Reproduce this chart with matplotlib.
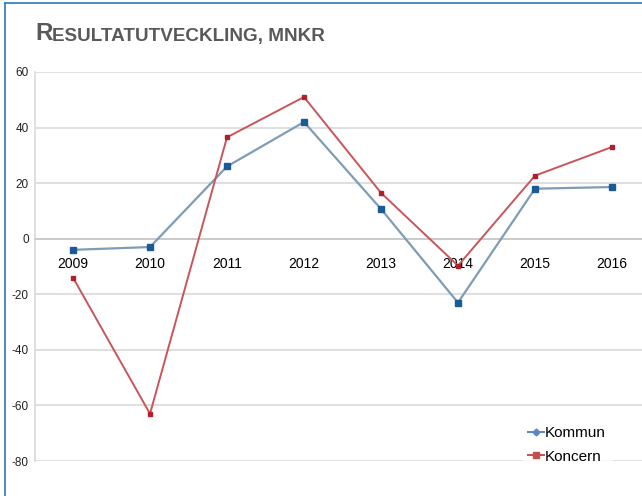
import matplotlib.pyplot as plt
from matplotlib.lines import Line2D

plt.rcParams['font.family'] = ['Liberation Sans', 'DejaVu Sans']

# data
years = ["2009", "2010", "2011", "2012", "2013", "2014", "2015", "2016"]
kommun = [-4, -3, 26, 42, 10.7, -23, 18, 18.6]
koncern = [-14, -63, 36.5, 51, 16.5, -9.7, 22.7, 33]
yticks = [-80, -60, -40, -20, 0, 20, 40, 60]

fig = plt.figure(figsize=(6.42, 4.96), dpi=100)
ax = fig.add_axes([34.5 / 642, 35 / 496, 616 / 642, 389 / 496])

x = list(range(len(years)))

# linjer
ax.plot(x, kommun, color="#7f9cb6", lw=1.6, marker="s", ms=4,
        mfc="#1a5b96", mec="#1a5b96", zorder=3)
ax.plot(x, koncern, color="#c9555a", lw=1.4, marker="s", ms=3.2,
        mfc="#b0202a", mec="#b0202a", zorder=3)

ax.set_xlim(-0.5, 7.5)
ax.set_ylim(-80, 60)
ax.set_yticks(yticks)
ax.set_yticklabels([str(v) for v in yticks], fontsize=8.5, color="#222222")
ax.set_xticks(x)
ax.set_xticklabels(years, fontsize=8.5, color="#222222")
ax.tick_params(axis="both", length=0)
ax.tick_params(axis="y", pad=4)
ax.tick_params(axis="x", pad=13)

ax.grid(axis="y", color="#d9d9d9", lw=1.2)
ax.set_axisbelow(True)

for s in ["top", "right"]:
    ax.spines[s].set_visible(False)
ax.spines["left"].set_color("#d9d9d9")
ax.spines["left"].set_linewidth(1.2)
ax.spines["bottom"].set_position(("data", 0))
ax.spines["bottom"].set_color("#c8c8c8")
ax.spines["bottom"].set_linewidth(1.2)

# legend
handles = [
    Line2D([], [], color="#5b86c0", lw=1.4, marker="D", ms=3.5, mfc="#5b86c0", mec="#5b86c0"),
    Line2D([], [], color="#c0504d", lw=1.4, marker="s", ms=4, mfc="#c0504d", mec="#c0504d"),
]
leg = ax.legend(handles, ["Kommun", "Koncern"], loc="lower right",
                bbox_to_anchor=(0.95, -0.042), fontsize=11, frameon=True,
                handlelength=1.0, handletextpad=0.1, labelspacing=0.6,
                borderpad=0.4, fancybox=False)
leg.get_frame().set_edgecolor("white")
leg.get_frame().set_facecolor("white")

# titel i kapitäler
t1 = fig.text(35 / 642, 1 - 40 / 496, "R", fontsize=17.5, fontweight="bold",
              color="#595959", va="baseline")
ax.annotate("ESULTATUTVECKLING, MNKR", xy=(1, 0), xycoords=t1,
            fontsize=13.6, fontweight="bold", color="#595959",
            va="bottom", ha="left", annotation_clip=False)

# blå ram
fig.add_artist(Line2D([5 / 642, 5 / 642], [0, 1 - 3 / 496], color="#3d7fbf", lw=1.3))
fig.add_artist(Line2D([5 / 642, 1], [1 - 3 / 496, 1 - 3 / 496], color="#3d7fbf", lw=1.3))

fig.savefig("out.png", dpi=100)
